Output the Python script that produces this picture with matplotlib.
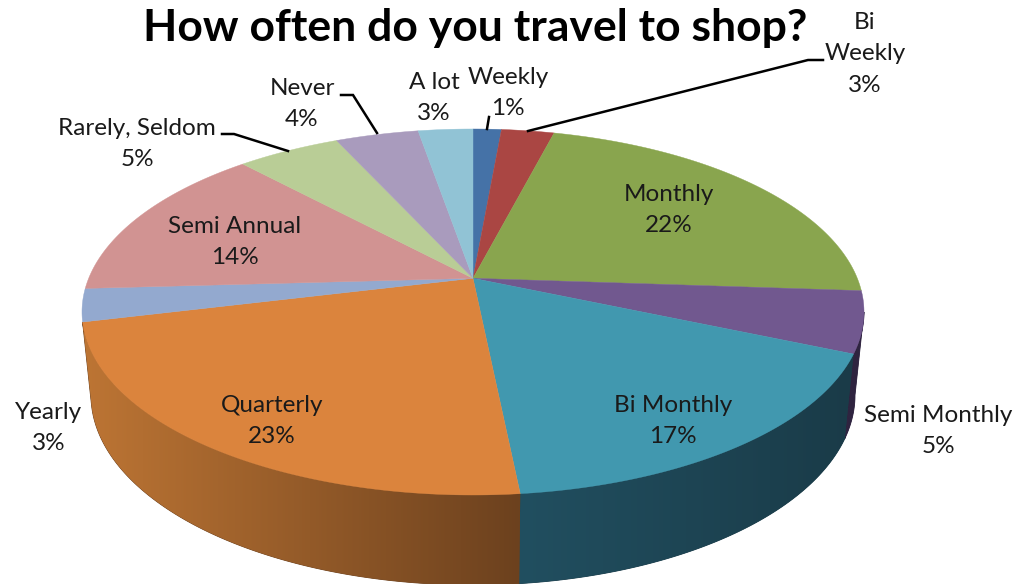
import numpy as np
import matplotlib.pyplot as plt
from matplotlib.colors import LinearSegmentedColormap
from matplotlib.patches import Polygon

plt.rcParams["font.family"] = ["Lato", "DejaVu Sans"]

# =================================================================================================
#   DATA
# =================================================================================================

names = ["Weekly", "Bi\nWeekly", "Monthly", "Semi Monthly", "Bi Monthly", "Quarterly",
         "Yearly", "Semi Annual", "Rarely, Seldom", "Never", "A lot"]
percent_labels = [1, 3, 22, 5, 17, 23, 3, 14, 5, 4, 3]
shares = [1.4, 2.6, 22.1, 5.4, 16.9, 22.8, 2.9, 14.0, 5.1, 4.1, 2.7]
colors = ["#4572a7", "#aa4643", "#89a54e", "#71588f", "#4198af", "#db843d",
          "#93a9cf", "#d19392", "#b9cd96", "#a99bbd", "#91c3d5"]
label_x = [508, 865, 669, 938, 673, 272, 49, 235, 137, 302, 434]
label_y = [93, 54, 210, 431, 421, 421, 428, 242, 144, 104, 98]

# side wall colours, left and right end of the horizontal shading
wall_shades = {
    "Semi Monthly": ("#2f2440", "#2f2440"),
    "Bi Monthly": ("#214f60", "#1a3b48"),
    "Quarterly": ("#bd7534", "#6c411e"),
}

title = "How often do you travel to shop?"

# =================================================================================================
#   GEOMETRY OF THE TILTED PIE (in image pixels)
# =================================================================================================

CX, TOP_Y, TOP_RX, TOP_RY = 473, 312, 391, 183
BOT_Y, BOT_RX, BOT_RY = 395, 382, 190
K = 0.83  # perspective squeeze of the angles


def rim_angle(pct):
    """Angle on the rim ellipse for a cumulative percentage, clockwise from 12 o'clock."""
    theta = np.radians(np.asarray(pct, dtype=float) * 3.6)
    return 2 * np.arctan2(K * np.sin(theta / 2), np.cos(theta / 2))


def rim(phi, cy=TOP_Y, rx=TOP_RX, ry=TOP_RY):
    return CX + rx * np.sin(phi), cy - ry * np.cos(phi)


APEX = (CX, TOP_Y - TOP_RY * np.cos(rim_angle(25)))

# =================================================================================================
#   PLOT
# =================================================================================================

fig = plt.figure(figsize=(10.19, 5.84), dpi=100)
ax = fig.add_axes([0, 0, 1, 1])

edges = np.cumsum([0] + shares)

# side walls first
for i, name in enumerate(names):
    if name not in wall_shades:
        continue
    start = max(rim_angle(edges[i]), np.pi / 2)
    phi = np.linspace(start, rim_angle(edges[i + 1]), 120)
    xt, yt = rim(phi)
    xb, yb = rim(phi, BOT_Y, BOT_RX, BOT_RY)
    pts = np.column_stack([np.r_[xt, xb[::-1]], np.r_[yt, yb[::-1]]])
    # solid backing so no light seam shows between two walls
    ax.add_patch(Polygon(pts, closed=True, fc=wall_shades[name][1], ec=wall_shades[name][1],
                         lw=0.6, zorder=-1))
    patch = Polygon(pts, closed=True, fc="none", ec="none")
    ax.add_patch(patch)
    cmap = LinearSegmentedColormap.from_list(name, wall_shades[name])
    im = ax.imshow(np.linspace(0, 1, 256)[None, :], cmap=cmap, aspect="auto",
                   extent=[pts[:, 0].min(), pts[:, 0].max(), pts[:, 1].max(), pts[:, 1].min()])
    im.set_clip_path(patch)

# top face
for i, color in enumerate(colors):
    phi = np.linspace(rim_angle(edges[i]), rim_angle(edges[i + 1]), 80)
    if phi[-1] <= phi[0]:
        phi = np.linspace(rim_angle(edges[i]), rim_angle(edges[i + 1]) + 2 * np.pi, 80)
    xr, yr = rim(phi)
    ax.fill(np.r_[APEX[0], xr], np.r_[APEX[1], yr], color=color, lw=0.3, zorder=3)

# labels
for name, pct, x, y in zip(names, percent_labels, label_x, label_y):
    ax.text(x, y, f"{name}\n{pct}%", ha="center", va="center", fontsize=17.5,
            linespacing=1.6, color="#1a1a1a", zorder=5)

# leader lines
for xs, ys in [([489, 487], [117, 129]),
               ([823, 808, 528], [60, 60, 131]),
               ([341, 353, 377], [95, 95, 133]),
               ([222, 234, 288], [134, 134, 151])]:
    ax.plot(xs, ys, color="black", lw=1.8, zorder=4, solid_joinstyle="miter")

ax.text(475, 28, title, ha="center", va="center", fontsize=32, fontweight="bold",
        color="black", zorder=5)

ax.set_xlim(0, 1019)
ax.set_ylim(584, 0)
ax.axis("off")

fig.savefig("out.png", dpi=100)
